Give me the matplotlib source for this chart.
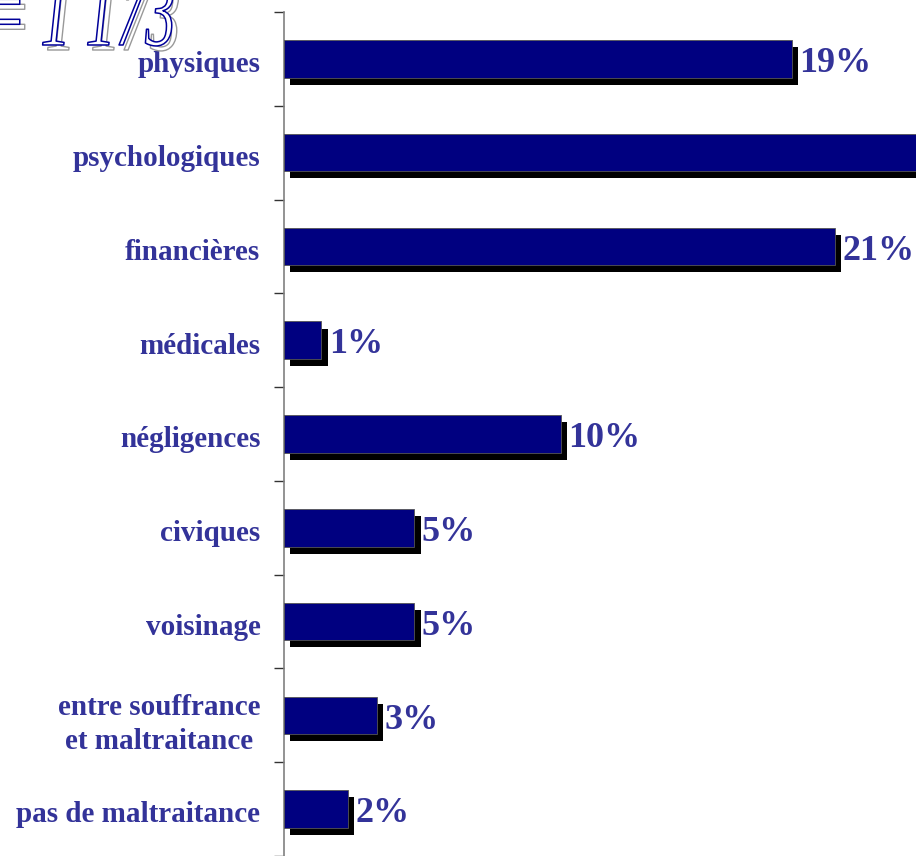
import numpy as np
import matplotlib
matplotlib.use('Agg')
import matplotlib.pyplot as plt
import matplotlib.patheffects as pe
from matplotlib.transforms import Affine2D

# data (bar lengths in %, labels as printed)
categories = ['physiques', 'psychologiques', 'financières', 'médicales',
              'négligences', 'civiques', 'voisinage',
              'entre souffrance\net maltraitance', 'pas de maltraitance']
values = [19.1, 33.0, 20.7, 1.4, 10.4, 4.9, 4.9, 3.5, 2.4]
pct_labels = ['19%', '33%', '21%', '1%', '10%', '5%', '5%', '3%', '2%']
title_txt = '= 1 173'

txt_col = '#333399'
bar_col = '#000080'


class Squeeze(pe.AbstractPathEffect):
  # outlined text, squeezed horizontally around its own baseline origin
  def __init__(self, sx, sy, dx=0, dy=0, edge='k', face='white', lw=0.8):
    super().__init__()
    self.sx, self.sy, self.dx, self.dy = sx, sy, dx, dy
    self.edge, self.face, self.lw = edge, face, lw

  def draw_path(self, renderer, gc, tpath, affine, rgbFace=None):
    x0, y0 = affine.transform((0, 0))
    tr = affine + Affine2D().translate(-x0, -y0).scale(self.sx, self.sy) \
        .translate(x0 + self.dx, y0 + self.dy)
    gc0 = renderer.new_gc()
    gc0.copy_properties(gc)
    gc0.set_foreground(self.edge)
    gc0.set_linewidth(self.lw)
    renderer.draw_path(gc0, tpath, tr, matplotlib.colors.to_rgba(self.face))
    gc0.restore()


def plotGraph():
  W, H = 916, 856
  fig = plt.figure(figsize=(W/100., H/100.), dpi=100)
  fig.patch.set_facecolor('white')

  px_per_pct = 26.6
  x0 = 284
  top = 12
  step = 94.1
  ax = fig.add_axes([x0/W, 0, 1 - x0/W, 1 - top/H])
  ax.set_xlim(0, (W - x0)/px_per_pct)
  ax.set_ylim((H - top)/step - 0.5, -0.5)

  y = np.arange(len(categories))
  ax.barh(y + 0.075, values, left=0.24, height=0.4, color='black', zorder=2)
  ax.barh(y, values, height=0.4, color=bar_col, edgecolor='#555555',
          linewidth=0.6, zorder=3)

  for yi, v, s in zip(y, values, pct_labels):
    ax.text(v + 0.28, yi + 0.05, s, ha='left', va='center', fontsize=26,
            family='Liberation Serif', weight='bold', color=txt_col,
            clip_on=True, zorder=4)

  for sp in ['top', 'right', 'bottom']:
    ax.spines[sp].set_visible(False)
  ax.spines['left'].set_color('#808080')
  ax.spines['left'].set_linewidth(1.2)
  ax.set_xticks([])

  ax.set_yticks(np.arange(-0.5, len(categories), 1.0))
  ax.set_yticklabels([])
  ax.set_yticks(y + 0.03, minor=True)
  ax.set_yticklabels(categories, minor=True, fontsize=21,
                     family='Liberation Serif', weight='bold', color=txt_col)
  ax.tick_params(axis='y', which='major', length=7, width=1, color='#333333')
  ax.tick_params(axis='y', which='minor', length=0, pad=17)
  for lbl in ax.get_yticklabels(minor=True):
    if '\n' in lbl.get_text():
      lbl.set_multialignment('center')
      lbl.set_linespacing(1.35)

  # big outlined count in the top left corner (cut by the frame)
  fig.text(-15/W, 1 - 45/H, title_txt, ha='left', va='baseline', fontsize=72,
           family='Liberation Serif', style='italic', color='white',
           path_effects=[Squeeze(0.6, 1.0, 5, -5, edge='#999999', lw=1.0),
                         Squeeze(0.6, 1.0, 0, 0, edge='#000099', lw=1.1)])

  fig.savefig('out.png', dpi=100)


if __name__ == "__main__":
  plotGraph()
